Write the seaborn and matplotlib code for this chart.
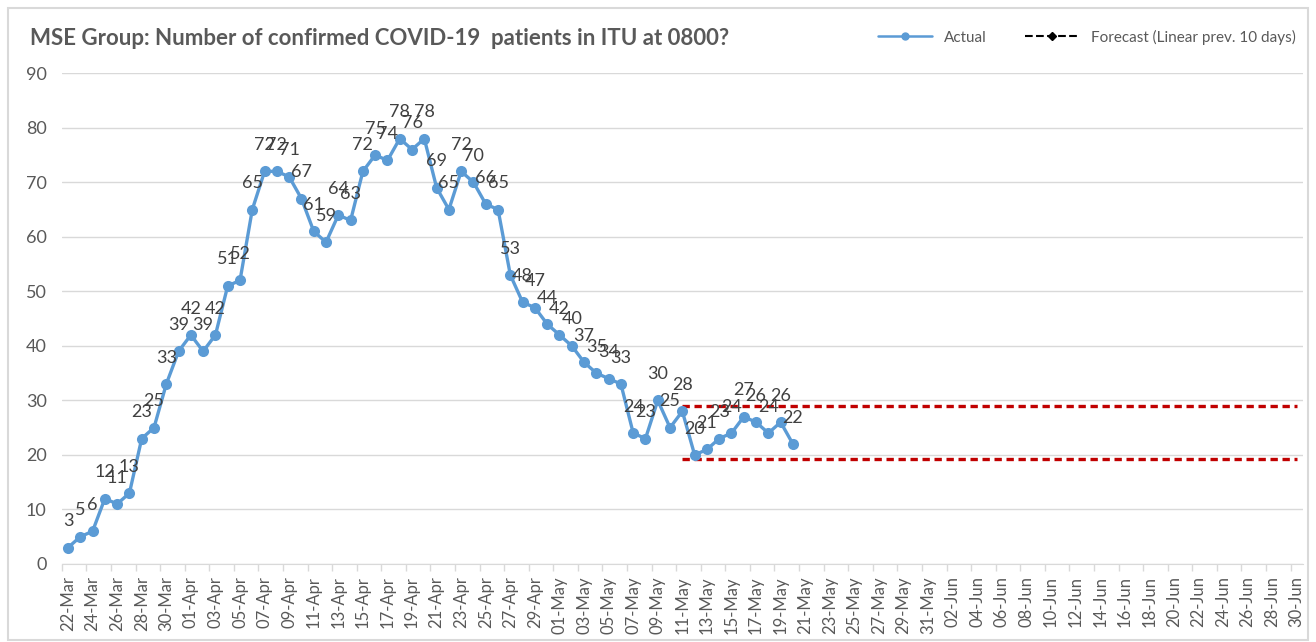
import pandas as pd
import numpy as np
import seaborn as sns
import matplotlib.pyplot as plt
import matplotlib.dates as mdates
from matplotlib.lines import Line2D
from matplotlib.patches import Rectangle

sns.set_style("white")
plt.rcParams['font.family'] = ['Lato', 'DejaVu Sans']

# data
start_date = "2020-03-22"
end_date = "2020-06-30"
itu_actual = [3, 5, 6, 12, 11, 13, 23, 25, 33, 39,
              42, 39, 42, 51, 52, 65, 72, 72, 71, 67,
              61, 59, 64, 63, 72, 75, 74, 78, 76, 78,
              69, 65, 72, 70, 66, 65, 53, 48, 47, 44,
              42, 40, 37, 35, 34, 33, 24, 23, 30, 25,
              28, 20, 21, 23, 24, 27, 26, 24, 26, 22]
forecast_start = "2020-05-11"
forecast_upper = 29.0
forecast_lower = 19.2

df = pd.DataFrame({"date": pd.date_range(start_date, periods=len(itu_actual)),
                   "patients": itu_actual})
band = pd.DataFrame({"date": [pd.Timestamp(forecast_start), pd.Timestamp(end_date)] * 2,
                     "value": [forecast_upper, forecast_upper, forecast_lower, forecast_lower],
                     "which": ["upper", "upper", "lower", "lower"]})

blue = "#5B9BD5"
grey = "#595959"

fig = plt.figure(figsize=(13.16, 6.42), dpi=100)
ax = fig.add_axes([0.047, 0.1215, 0.943, 0.7645])

sns.lineplot(data=df, x="date", y="patients", ax=ax, color=blue, lw=2.4,
             marker="o", markersize=8, markeredgewidth=0, zorder=3)
for w in ["upper", "lower"]:
    sns.lineplot(data=band[band.which == w], x="date", y="value", ax=ax,
                 color="#C00000", lw=2.4, linestyle=(0, (2.2, 1.4)), zorder=2)

for d, v in zip(df.date, df.patients):
    ax.annotate(str(v), (d, v), xytext=(0, 19), textcoords="offset points",
                ha="center", va="center", fontsize=13, color="#404040", zorder=4)

x0 = pd.Timestamp(start_date) - pd.Timedelta(hours=12)
x1 = pd.Timestamp(end_date) + pd.Timedelta(hours=12)
ax.set_xlim(x0, x1)
ax.set_ylim(0, 90)
ax.set_yticks(range(0, 91, 10))
ax.grid(axis="y", color="#D9D9D9", lw=1)
ax.set_axisbelow(True)

labels = pd.date_range(start_date, end_date, freq="2D")
ax.set_xticks(labels)
ax.set_xticklabels([d.strftime("%d-%b") for d in labels], rotation=90,
                   fontsize=12, color=grey)
ax.set_xticks(labels - pd.Timedelta(hours=12), minor=True)
ax.tick_params(axis="x", which="major", length=0, pad=9)
ax.tick_params(axis="x", which="minor", length=5, color="#D9D9D9", width=1, bottom=True)
ax.tick_params(axis="y", length=0, labelsize=13, labelcolor=grey, pad=11)
for s in ["top", "right", "left"]:
    ax.spines[s].set_visible(False)
ax.spines["bottom"].set_color("#D9D9D9")
ax.set_xlabel("")
ax.set_ylabel("")

fig.text(0.023, 0.94, "MSE Group: Number of confirmed COVID-19  patients in ITU at 0800?",
         fontsize=16, fontweight="bold", color=grey, va="center")

handles = [Line2D([], [], color=blue, lw=1.8, marker="o", markersize=5),
           Line2D([], [], color="black", lw=1.5, linestyle="--", marker="D", markersize=4)]
fig.legend(handles, ["Actual", "Forecast (Linear prev. 10 days)"], loc="center right",
           bbox_to_anchor=(0.995, 0.942), ncol=2, frameon=False, fontsize=11,
           labelcolor=grey, handlelength=3.5, columnspacing=2.5)

fig.patches.append(Rectangle((0.006, 0.003), 0.988, 0.984, transform=fig.transFigure,
                             fill=False, edgecolor="#D9D9D9", lw=1.5))

plt.savefig("out.png", dpi=100)
